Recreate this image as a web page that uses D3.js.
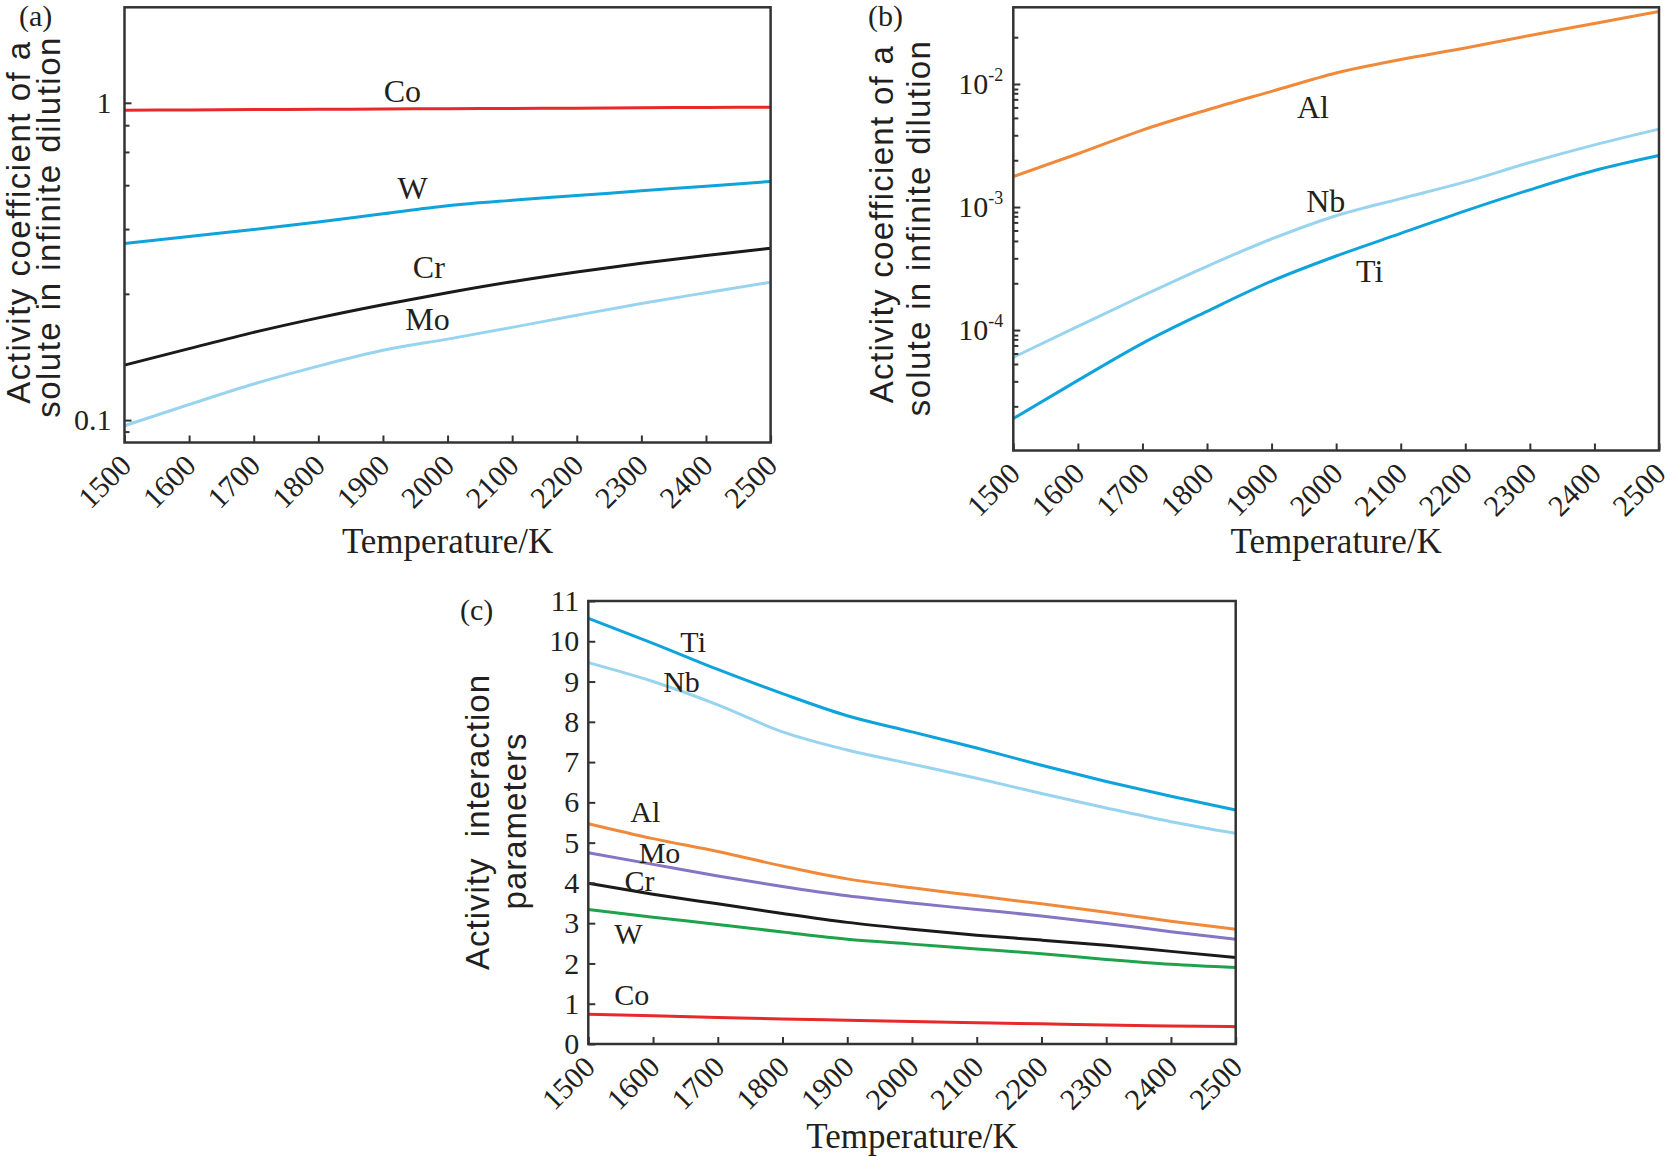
<!DOCTYPE html>
<html>
<head>
<meta charset="utf-8">
<script src="https://cdn.jsdelivr.net/npm/d3@7"></script>
<style>
  body { margin: 0; background: #fff; }
  svg { display: block; }
</style>
</head>
<body>
<div id="chart"></div>
<script>
// temperatures shared by all three panels (K)
const temps = [1500, 1600, 1700, 1800, 1900, 2000, 2100, 2200, 2300, 2400, 2500];

// (a) activity coefficients, log axis
const aCo = [0.948, 0.950, 0.952, 0.954, 0.956, 0.958, 0.960, 0.962, 0.965, 0.967, 0.969];
const aW  = [0.360, 0.379, 0.399, 0.421, 0.447, 0.474, 0.493, 0.510, 0.528, 0.546, 0.565];
const aCr = [0.149, 0.168, 0.189, 0.210, 0.231, 0.252, 0.273, 0.293, 0.312, 0.330, 0.348];
const aMo = [0.096, 0.112, 0.130, 0.148, 0.166, 0.180, 0.196, 0.214, 0.233, 0.252, 0.272];

// (b) activity coefficients, log axis
const bAl = [1.77e-3, 2.71e-3, 4.22e-3, 6.15e-3, 8.71e-3, 1.23e-2, 1.58e-2, 1.96e-2, 2.48e-2, 3.10e-2, 3.88e-2];
const bNb = [6.0e-5, 1.07e-4, 1.9e-4, 3.3e-4, 5.5e-4, 8.5e-4, 1.17e-3, 1.6e-3, 2.3e-3, 3.2e-3, 4.3e-3];
const bTi = [1.91e-5, 3.9e-5, 7.8e-5, 1.42e-4, 2.5e-4, 4.0e-4, 6.1e-4, 9.3e-4, 1.38e-3, 1.98e-3, 2.62e-3];

// (c) activity interaction parameters
const cTi = [10.57, 9.95, 9.30, 8.70, 8.15, 7.75, 7.35, 6.92, 6.52, 6.15, 5.81];
const cNb = [9.47, 9.00, 8.42, 7.75, 7.30, 6.95, 6.60, 6.22, 5.86, 5.52, 5.23];
const cAl = [5.47, 5.10, 4.78, 4.42, 4.10, 3.88, 3.68, 3.48, 3.27, 3.05, 2.85];
const cMo = [4.75, 4.46, 4.17, 3.91, 3.68, 3.50, 3.34, 3.18, 2.99, 2.79, 2.60];
const cCr = [3.99, 3.72, 3.48, 3.24, 3.02, 2.85, 2.70, 2.58, 2.45, 2.30, 2.15];
const cW  = [3.34, 3.15, 2.97, 2.78, 2.60, 2.48, 2.36, 2.24, 2.10, 1.98, 1.90];
const cCo = [0.74, 0.70, 0.66, 0.62, 0.59, 0.56, 0.53, 0.50, 0.47, 0.45, 0.43];

// tick values
const aYTicks = [0.1, 1];
const aYMinor = [0.092, 0.25, 0.4, 0.55, 0.7, 0.85];
const bYExps = [-4, -3, -2];
const bMinorMult = [0.24, 0.383, 0.53, 0.645, 0.75, 0.84, 0.91];
const cYTicks = d3.range(0, 12);

// label positions in data units [T, value]
const aLabels = [["Co", 1930, 1.093], ["W", 1946, 0.541], ["Cr", 1971, 0.304], ["Mo", 1969, 0.209]];
const bLabels = [["Al", 1964, 6.56e-3], ["Nb", 1984, 1.12e-3], ["Ti", 2052, 3.05e-4]];
const cLabels = [["Ti", 1662, 9.99], ["Nb", 1644, 9.0], ["Al", 1588, 5.77], ["Mo", 1610, 4.76],
                 ["Cr", 1579, 4.06], ["W", 1562, 2.75], ["Co", 1567, 1.22]];

const SERIF = "'Liberation Serif','Times New Roman',serif";
const SANS = "'Liberation Sans',Arial,sans-serif";
const INK = "#231f20";

const col = {
  red: "#e8282b", blue: "#0fa3dc", light: "#98d4f0", black: "#1a1a1a",
  orange: "#f08a3a", purple: "#8674c4", green: "#1ea24c"
};

const svg = d3.select("#chart").append("svg")
  .attr("width", 1672).attr("height", 1156)
  .style("background", "#fff");

function drawPanel(p) {
  const g = svg.append("g");
  const x = d3.scaleLinear().domain([1500, 2500]).range([p.left, p.right]);
  const y = p.y.range([p.bottom, p.top]);

  // series
  const line = d3.line()
    .x((d, i) => x(temps[i]))
    .y(d => y(d))
    .curve(d3.curveMonotoneX);
  p.series.forEach(s => {
    g.append("path")
      .datum(s.values)
      .attr("fill", "none")
      .attr("stroke", s.color)
      .attr("stroke-width", 3)
      .attr("d", line);
  });

  // frame
  g.append("rect")
    .attr("x", p.left).attr("y", p.top)
    .attr("width", p.right - p.left).attr("height", p.bottom - p.top)
    .attr("fill", "none").attr("stroke", "#333").attr("stroke-width", 2.5);

  // x axis, ticks inward, labels at 45 degrees
  const xAxis = g.append("g")
    .attr("transform", `translate(0,${p.bottom})`)
    .call(d3.axisBottom(x).tickValues(temps).tickSize(-7).tickFormat(d3.format("d")));
  xAxis.select(".domain").remove();
  xAxis.selectAll("line").attr("stroke", "#333").attr("stroke-width", 2);
  xAxis.selectAll("text")
    .attr("y", 0).attr("dy", 0)
    .attr("text-anchor", "end")
    .attr("transform", "translate(8,25) rotate(-45)")
    .attr("font-family", SERIF).attr("font-size", 30).attr("fill", INK);

  // y axis
  const yAxis = g.append("g")
    .attr("transform", `translate(${p.left},0)`)
    .call(d3.axisLeft(y).tickValues(p.yTicks).tickSize(-7).tickPadding(p.tickPad).tickFormat(p.yFormat));
  yAxis.select(".domain").remove();
  yAxis.selectAll("line").attr("stroke", "#333").attr("stroke-width", 2);
  yAxis.selectAll("text")
    .attr("font-family", SERIF).attr("font-size", 30).attr("fill", INK);
  if (p.superLabels) {
    yAxis.selectAll("text").each(function (d) {
      const t = d3.select(this).text("");
      t.append("tspan").text("10");
      t.append("tspan").attr("font-size", 18).attr("dy", "-0.75em").text(Math.round(Math.log10(d)));
    });
  }
  if (p.yMinor) {
    const m = g.append("g")
      .attr("transform", `translate(${p.left},0)`)
      .call(d3.axisLeft(y).tickValues(p.yMinor).tickSize(-5).tickFormat(""));
    m.select(".domain").remove();
    m.selectAll("line").attr("stroke", "#333").attr("stroke-width", 2);
  }

  // axis titles
  g.append("text")
    .attr("x", (p.left + p.right) / 2).attr("y", p.xTitleY)
    .attr("text-anchor", "middle")
    .attr("font-family", SERIF).attr("font-size", 35).attr("fill", INK)
    .text("Temperature/K");
  p.yTitle.forEach(([txt, bx, cy]) => {
    g.append("text")
      .attr("transform", `translate(${bx},${cy}) rotate(-90)`)
      .attr("text-anchor", "middle")
      .attr("font-family", SANS).attr("font-size", 33)
      .attr("letter-spacing", p.titleSpacing).attr("fill", INK)
      .attr("xml:space", "preserve")
      .text(txt);
  });

  // panel letter
  g.append("text")
    .attr("x", p.tag[1]).attr("y", p.tag[2])
    .attr("font-family", SERIF).attr("font-size", 30).attr("fill", INK)
    .text(p.tag[0]);

  // series names
  p.labels.forEach(([name, T, v]) => {
    g.append("text")
      .attr("x", x(T)).attr("y", y(v)).attr("dy", "0.35em")
      .attr("text-anchor", "middle")
      .attr("font-family", SERIF).attr("font-size", p.labelSize).attr("fill", INK)
      .text(name);
  });
}

// (a)
drawPanel({
  left: 124.5, right: 770.6, top: 7.3, bottom: 442.5,
  y: d3.scaleLog().domain([0.085, 2.0]),
  yTicks: aYTicks, yMinor: aYMinor, tickPad: 13,
  yFormat: d => (d === 1 ? "1" : "0.1"),
  series: [
    { values: aCo, color: col.red },
    { values: aW, color: col.blue },
    { values: aCr, color: col.black },
    { values: aMo, color: col.light }
  ],
  labels: aLabels, labelSize: 32,
  xTitleY: 553,
  titleSpacing: 1.5,
  yTitle: [["Activity coefficient of a", 30, 222], ["solute in infinite dilution", 60, 227]],
  tag: ["(a)", 19, 26]
});

// (b)
const bMinor = [];
[-5, -4, -3, -2].forEach(e => bMinorMult.forEach(m => {
  const v = m * Math.pow(10, e + 1);
  if (v > 1.05e-5 && v < 0.03) bMinor.push(v);
}));
drawPanel({
  left: 1013.3, right: 1659, top: 7.3, bottom: 450.5,
  y: d3.scaleLog().domain([1.05e-5, 0.042]),
  yTicks: bYExps.map(e => Math.pow(10, e)), yMinor: bMinor, tickPad: 10,
  yFormat: d => String(d), superLabels: true,
  series: [
    { values: bAl, color: col.orange },
    { values: bNb, color: col.light },
    { values: bTi, color: col.blue }
  ],
  labels: bLabels, labelSize: 32,
  xTitleY: 553,
  titleSpacing: 1.3,
  yTitle: [["Activity coefficient of a", 893, 224], ["solute in infinite dilution", 930, 228]],
  tag: ["(b)", 868, 26]
});

// (c)
drawPanel({
  left: 588.3, right: 1235.7, top: 601, bottom: 1044,
  y: d3.scaleLinear().domain([0, 11]),
  yTicks: cYTicks, yMinor: null, tickPad: 9,
  yFormat: d3.format("d"),
  series: [
    { values: cTi, color: col.blue },
    { values: cNb, color: col.light },
    { values: cAl, color: col.orange },
    { values: cMo, color: col.purple },
    { values: cCr, color: col.black },
    { values: cW, color: col.green },
    { values: cCo, color: col.red }
  ],
  labels: cLabels, labelSize: 30,
  xTitleY: 1148,
  titleSpacing: 1,
  yTitle: [["Activity  interaction", 489, 822], ["parameters", 526, 821]],
  tag: ["(c)", 460, 620]
});
</script>
</body>
</html>
